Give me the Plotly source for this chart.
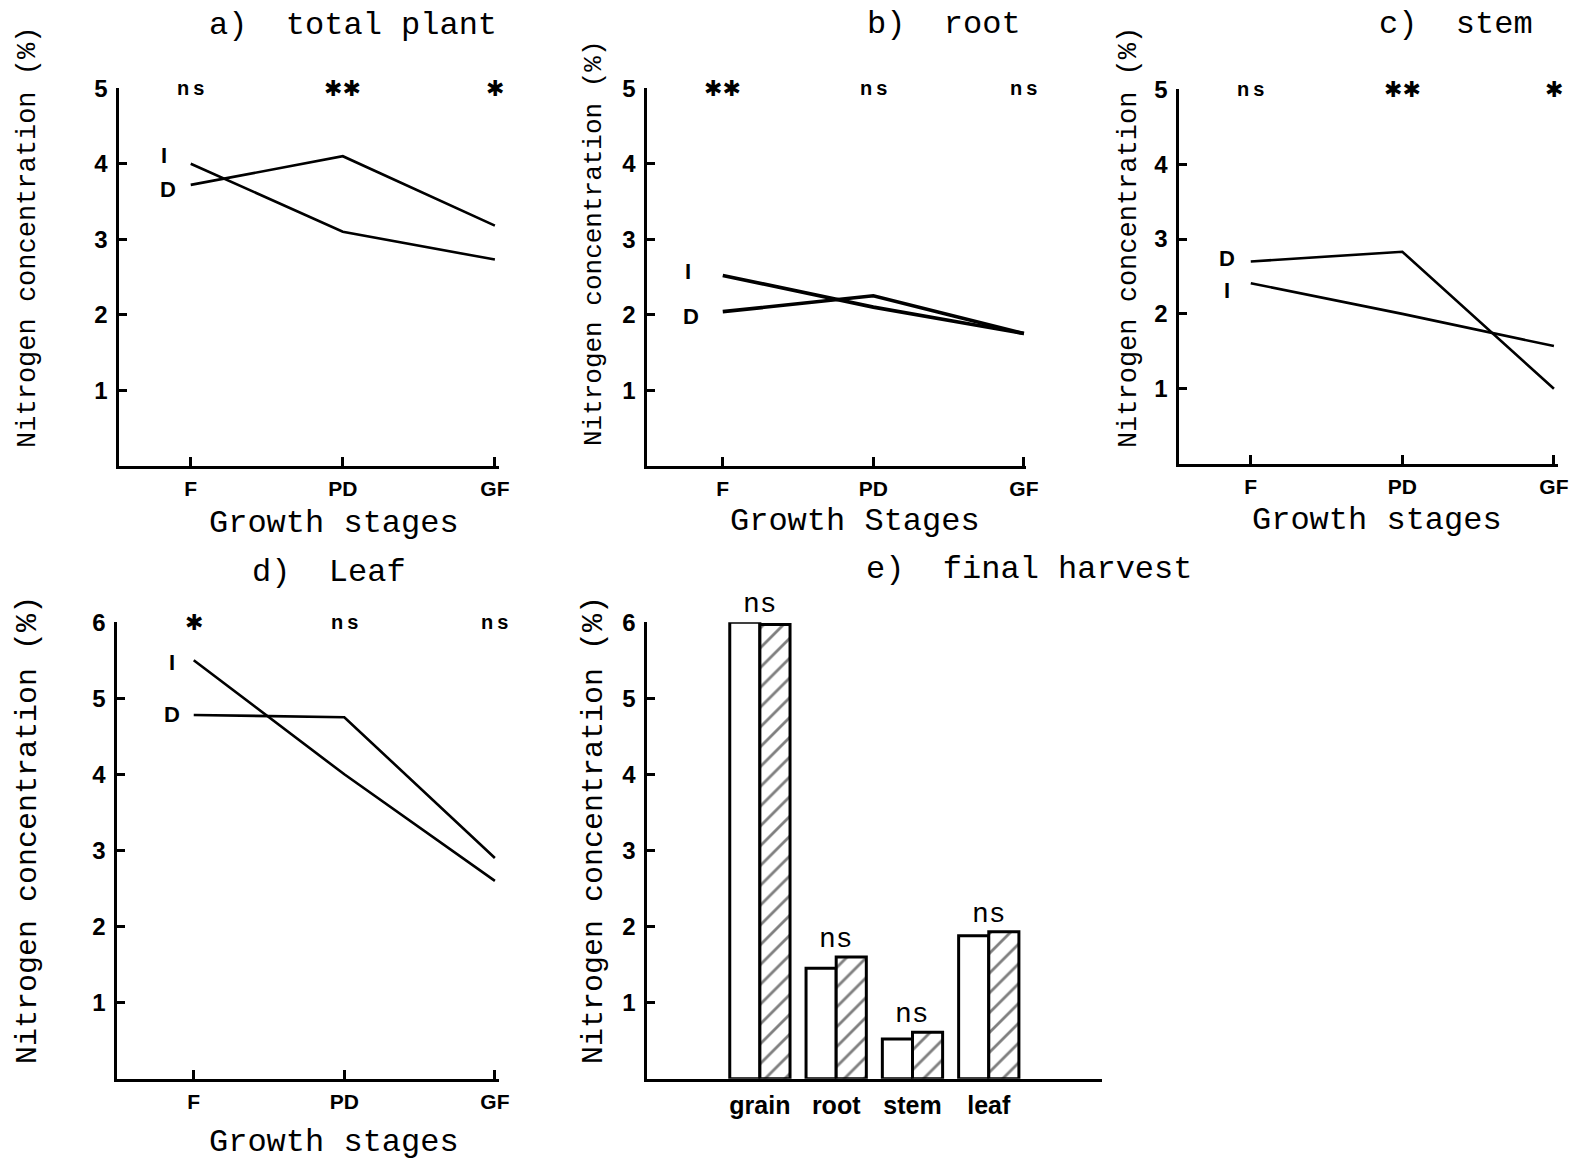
import plotly.graph_objects as go

W, H = 1574, 1169
SX, SY = 1574 / 1568, 1169 / 1165  # reference was read at 1568x1165

stages = ["F", "PD", "GF"]

# a) total plant
total_I = [4.0, 3.1, 2.73]
total_D = [3.72, 4.1, 3.18]
total_sig = ["n\u2009s", "✱✱", "✱"]
# b) root
root_I = [2.52, 2.1, 1.75]
root_D = [2.04, 2.25, 1.75]
root_sig = ["✱✱", "n\u2009s", "n\u2009s"]
# c) stem
stem_I = [2.41, 2.0, 1.57]
stem_D = [2.7, 2.83, 1.0]
stem_sig = ["n\u2009s", "✱✱", "✱"]
# d) leaf
leaf_I = [5.5, 4.0, 2.6]
leaf_D = [4.78, 4.75, 2.9]
leaf_sig = ["✱", "n\u2009s", "n\u2009s"]

# e) final harvest
organs = ["grain", "root", "stem", "leaf"]
harvest_open = [6.0, 1.45, 0.52, 1.88]
harvest_hatched = [5.97, 1.6, 0.61, 1.93]
harvest_sig = ["ns", "ns", "ns", "ns"]

SANS = "Liberation Sans, Arial, sans-serif"
MONO = "Liberation Mono, Courier New, monospace"


def px_x(x):
    return x * SX / W


def px_y(y):
    return 1 - y * SY / H


def cat_range(x_left, x_first, x_last, x_right, n):
    unit = (x_last - x_first) / (n - 1)
    return [(x_left - x_first) / unit, (x_right - x_first) / unit]


fig = go.Figure()

# pixel guides: axis left, first category, last category, axis right, y of top value, y of zero
panels = [
    dict(key="", I=total_I, D=total_D, sig=total_sig, ymax=5,
         px=(119, 190, 493, 497), py=(88, 464),
         title="a)\u00a0 total plant", tpos=(352, 25), xt=(333, 522), yt=(28, 237), ytsize=27,
         ilab=(163, 155), dlab=(167, 189), lw=2.6),
    dict(key="2", I=root_I, D=root_D, sig=root_sig, ymax=5,
         px=(645, 720, 1020, 1022), py=(88, 464),
         title="b)\u00a0 root", tpos=(940, 24), xt=(852, 520), yt=(592, 242), ytsize=26,
         ilab=(685, 271), dlab=(688, 315), lw=3.6),
    dict(key="3", I=stem_I, D=stem_D, sig=stem_sig, ymax=5,
         px=(1175, 1246, 1548, 1552), py=(89, 462),
         title="c)\u00a0 stem", tpos=(1450, 24), xt=(1372, 519), yt=(1125, 237), ytsize=27,
         ilab=(1222, 290), dlab=(1222, 258), lw=2.6),
    dict(key="4", I=leaf_I, D=leaf_D, sig=leaf_sig, ymax=6,
         px=(117, 193, 493, 497), py=(620, 1075),
         title="d)\u00a0 Leaf", tpos=(328, 571), xt=(333, 1139), yt=(28, 827), ytsize=30,
         ilab=(171, 660), dlab=(171, 712), lw=2.6),
]

annotations = []


def add_text(text, x, y, size, family=SANS, angle=0, weight="normal"):
    annotations.append(dict(text=text, x=px_x(x), y=px_y(y), xref="paper", yref="paper",
                            showarrow=False, textangle=angle, xanchor="center", yanchor="middle",
                            font=dict(size=size, family=family, color="black", weight=weight)))


axis_common = dict(showline=True, linecolor="black", linewidth=3, showgrid=False, zeroline=False,
                   ticks="inside", tickcolor="black", tickwidth=2.5, mirror=False,
                   automargin=False)

for p in panels:
    xa = "x" + p["key"]
    ya = "y" + p["key"]
    for name, vals in (("I", p["I"]), ("D", p["D"])):
        fig.add_trace(go.Scatter(x=stages, y=vals, mode="lines", name=name, xaxis=xa, yaxis=ya,
                                 line=dict(color="black", width=p["lw"]), showlegend=False,
                                 cliponaxis=False))
    x0, xf, xl, x1 = p["px"]
    yt, yb = p["py"]
    fig.layout["xaxis" + p["key"]] = dict(
        axis_common, domain=[px_x(x0), px_x(x1)], anchor=ya, type="category",
        range=cat_range(x0, xf, xl, x1, len(stages)), ticklen=9, ticklabelstandoff=2,
        tickfont=dict(family=SANS, size=21, color="black", weight="bold"))
    fig.layout["yaxis" + p["key"]] = dict(
        axis_common, domain=[px_y(yb), px_y(yt)], anchor=xa, range=[0, p["ymax"]],
        tickvals=list(range(1, p["ymax"] + 1)), ticklen=8, ticklabelstandoff=4,
        tickfont=dict(family=SANS, size=24, color="black", weight="bold"))
    for s, sig in zip(stages, p["sig"]):
        star = "✱" in sig
        annotations.append(dict(text=sig, x=s, y=p["ymax"], xref=xa, yref=ya, showarrow=False,
                                yanchor="middle",
                                font=dict(family="DejaVu Sans" if star else SANS,
                                          size=22 if star else 20, color="black",
                                          weight="bold")))
    add_text(p["title"], *p["tpos"], 32, MONO)
    add_text("Growth stages" if p["key"] != "2" else "Growth Stages", *p["xt"], 32, MONO)
    add_text("Nitrogen concentration (%)", *p["yt"], p["ytsize"], MONO, angle=-90)
    add_text("I", *p["ilab"], 22, SANS, weight="bold")
    add_text("D", *p["dlab"], 22, SANS, weight="bold")

# e) final harvest bars
fig.add_trace(go.Bar(x=organs, y=harvest_open, name="open", xaxis="x5", yaxis="y5",
                     marker=dict(color="white", line=dict(color="black", width=3)),
                     showlegend=False))
fig.add_trace(go.Bar(x=organs, y=harvest_hatched, name="hatched", xaxis="x5", yaxis="y5",
                     marker=dict(color="white", line=dict(color="black", width=3),
                                 pattern=dict(shape="/", fgcolor="black", bgcolor="white",
                                              size=14, solidity=0.2)),
                     showlegend=False))
ex0, exf, exl, ex1 = 645, 757, 985, 1098
fig.layout["xaxis5"] = dict(
    showline=True, linecolor="black", linewidth=3, showgrid=False, zeroline=False, ticks="",
    automargin=False,
    domain=[px_x(ex0), px_x(ex1)], anchor="y5", type="category",
    range=cat_range(ex0, exf, exl, ex1, len(organs)), ticklabelstandoff=2,
    tickfont=dict(family=SANS, size=25, color="black", weight="bold"))
fig.layout["yaxis5"] = dict(
    axis_common, domain=[px_y(1075), px_y(620)], anchor="x5", range=[0, 6],
    tickvals=[1, 2, 3, 4, 5, 6], ticklen=8, ticklabelstandoff=4,
    tickfont=dict(family=SANS, size=24, color="black", weight="bold"))
for o, a, b, s in zip(organs, harvest_open, harvest_hatched, harvest_sig):
    annotations.append(dict(text=s, x=o, y=max(a, b), xref="x5", yref="y5", showarrow=False,
                            yanchor="bottom", yshift=0,
                            font=dict(family=MONO, size=28, color="black")))
add_text("e)\u00a0 final harvest", 1025, 568, 32, MONO)
add_text("Nitrogen concentration (%)", 592, 827, 30, MONO, angle=-90)

fig.update_layout(width=W, height=H, margin=dict(l=0, r=0, t=0, b=0),
                  paper_bgcolor="white", plot_bgcolor="white",
                  bargap=0.21, bargroupgap=0, barmode="group",
                  annotations=annotations, showlegend=False)

# drop the page's default body margin so the figure fills the window
fig.write_html("out.html", config={"displayModeBar": False},
               post_script="document.body.style.margin = '0px';")
